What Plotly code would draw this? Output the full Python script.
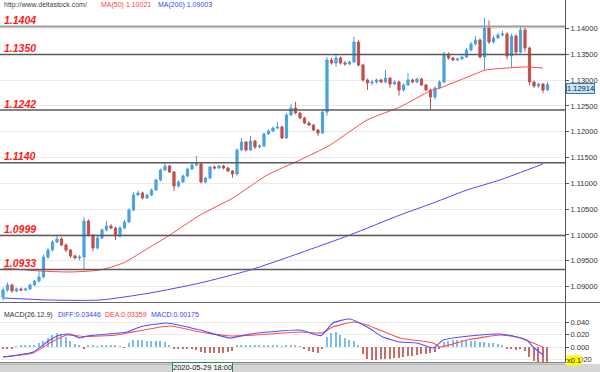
import plotly.graph_objects as go

# ---------------- data ----------------
first_open = 1.08798
closes = [1.08934,1.09031,1.08914,1.08953,1.08934,1.08953,1.09031,1.09108,1.09186,1.09573,
          1.09709,1.09864,1.09922,1.09806,1.09709,1.09593,1.09554,1.09573,1.10271,1.10000,
          1.09748,1.09942,1.10097,1.10174,1.10135,1.09980,1.10135,1.10252,1.10484,1.10775,
          1.10814,1.10717,1.10775,1.10872,1.11066,1.11259,1.11337,1.11221,1.10949,1.11027,
          1.11143,1.11279,1.11356,1.11376,1.11027,1.11104,1.11318,1.11298,1.11337,1.11298,
          1.11240,1.11182,1.11647,1.11802,1.11647,1.11821,1.11705,1.11725,1.11957,1.12015,
          1.12073,1.12093,1.11880,1.12325,1.12461,1.12364,1.12267,1.12170,1.12131,1.12035,
          1.11976,1.12383,1.13391,1.13333,1.13430,1.13333,1.13314,1.13352,1.13740,1.13294,
          1.13004,1.12945,1.12965,1.13004,1.12965,1.13042,1.12926,1.12965,1.12810,1.12907,
          1.13004,1.12965,1.13023,1.12907,1.12810,1.12674,1.12849,1.12965,1.13507,1.13430,
          1.13391,1.13411,1.13449,1.13585,1.13701,1.13779,1.13449,1.14011,1.13740,1.13818,
          1.13876,1.13895,1.13469,1.13856,1.13546,1.13973,1.13624,1.12965,1.12887,1.12926,
          1.12810,1.12914]
opens = [first_open] + closes[:-1]
highs = [1.0898,1.0908,1.0906,1.0898,1.0898,1.0898,1.0906,1.0913,1.0930,1.0962,
         1.0975,1.0990,1.0998,1.0996,1.0984,1.0973,1.0962,1.0961,1.1035,1.1030,
         1.1002,1.0998,1.1013,1.1027,1.1021,1.1016,1.1017,1.1029,1.1052,1.1083,
         1.1086,1.1084,1.1080,1.1090,1.1109,1.1129,1.1141,1.1136,1.1124,1.1106,
         1.1117,1.1131,1.1139,1.1153,1.1140,1.1113,1.1134,1.1135,1.1136,1.1136,
         1.1132,1.1126,1.1168,1.1188,1.1182,1.1192,1.1184,1.1176,1.1198,1.1205,
         1.1210,1.1219,1.1212,1.1236,1.1254,1.1258,1.1238,1.1229,1.1220,1.1215,
         1.1205,1.1241,1.1345,1.1343,1.1349,1.1346,1.1337,1.1338,1.1384,1.1378,
         1.1332,1.1303,1.1301,1.1303,1.1303,1.1320,1.1306,1.1300,1.1299,1.1294,
         1.1314,1.1303,1.1305,1.1305,1.1293,1.1284,1.1288,1.1300,1.1355,1.1354,
         1.1345,1.1344,1.1348,1.1362,1.1374,1.1386,1.1381,1.1421,1.1416,1.1386,
         1.1392,1.1396,1.1393,1.1390,1.1389,1.1403,1.1401,1.1365,1.1299,1.1295,
         1.1294,1.1296]
lows = [1.0873,1.0890,1.0888,1.0889,1.0891,1.0891,1.0893,1.0901,1.0908,1.0916,
        1.0953,1.0968,1.0984,1.0978,1.0967,1.0956,1.0953,1.0951,1.0932,1.0997,
        1.0968,1.0972,1.0992,1.1007,1.1011,1.0990,1.0995,1.1011,1.1023,1.1046,
        1.1075,1.1069,1.1070,1.1075,1.1085,1.1104,1.1124,1.1120,1.1085,1.1092,
        1.1101,1.1112,1.1126,1.1133,1.1100,1.1100,1.1108,1.1127,1.1128,1.1127,
        1.1122,1.1111,1.1115,1.1163,1.1162,1.1163,1.1167,1.1168,1.1171,1.1194,
        1.1199,1.1205,1.1186,1.1186,1.1231,1.1234,1.1224,1.1215,1.1211,1.1201,
        1.1192,1.1196,1.1231,1.1330,1.1326,1.1330,1.1328,1.1329,1.1333,1.1327,
        1.1297,1.1281,1.1290,1.1293,1.1294,1.1294,1.1285,1.1290,1.1270,1.1278,
        1.1289,1.1294,1.1294,1.1289,1.1279,1.1242,1.1262,1.1283,1.1294,1.1340,
        1.1337,1.1337,1.1339,1.1343,1.1356,1.1367,1.1342,1.1320,1.1370,1.1371,
        1.1380,1.1385,1.1340,1.1324,1.1350,1.1352,1.1355,1.1290,1.1285,1.1285,
        1.1275,1.1279]
idx = list(range(len(closes)))

ma50_x = [0, 8.2, 15, 21.5, 26.7, 32.7, 37.1, 43.8, 51.1, 58.7, 66, 72.7, 80.9, 88.2, 94.9, 97.1, 106, 107.1, 116.4, 120]
ma50_y = [1.09360, 1.09302, 1.09283, 1.09321, 1.09457, 1.09767, 1.10000, 1.10387, 1.10717, 1.11162,
          1.11453, 1.11744, 1.12228, 1.12480, 1.12790, 1.12849, 1.13159, 1.13197, 1.13256, 1.13236]
ma200_x = [0, 10.4, 21.6, 32.7, 43.8, 54.9, 66, 77.1, 88.2, 95.6, 103.1, 110.4, 120]
ma200_y = [1.08779, 1.08740, 1.08740, 1.08876, 1.09070, 1.09321, 1.09651, 1.10000, 1.10387,
           1.10620, 1.10872, 1.11066, 1.11376]

levels = [1.1404, 1.1350, 1.1242, 1.1140, 1.0999, 1.0933]
level_labels = ["1.1404", "1.1350", "1.1242", "1.1140", "1.0999", "1.0933"]
price_ticks = [1.09, 1.095, 1.10, 1.105, 1.11, 1.115, 1.12, 1.125, 1.13, 1.135, 1.14]
price_tick_text = ["1.09000", "1.09500", "1.10000", "1.10500", "1.11000", "1.11500",
                   "1.12000", "1.12500", "1.13000", "1.13500", "1.14000"]
last_price = 1.12914

diff_x = [0, 6.7, 10.4, 12.7, 14.9, 17.1, 18.7, 27.6, 30.4, 36.4, 43.8, 50.4, 54.9, 66, 70.7,
          73.3, 77.1, 80.9, 84.4, 88.2, 92, 95.6, 97.8, 101.6, 106, 110.4, 114.2, 116.4, 117.8, 120]
diff_y = [-0.0161, -0.0081, 0.0113, 0.0194, 0.0210, 0.0145, 0.0177, 0.0242, 0.0323, 0.0387,
          0.0274, 0.0145, 0.0210, 0.0274, 0.0185, 0.0387, 0.0452, 0.0323, 0.0161, 0.0081,
          0.0065, -0.0016, 0.0113, 0.0161, 0.0194, 0.0210, 0.0161, 0.0113, 0.0000, -0.0129]
dea_x = [0, 6.7, 10.4, 14.2, 17.8, 25.3, 27.6, 37.1, 43.8, 51.1, 66, 70.9, 73.3, 77.8, 80.9,
         88.2, 95.6, 97.1, 103.1, 110.4, 114.2, 120]
dea_y = [-0.0161, -0.0097, 0.0065, 0.0194, 0.0170, 0.0194, 0.0226, 0.0339, 0.0242, 0.0177,
         0.0242, 0.0226, 0.0323, 0.0403, 0.0355, 0.0145, 0.0065, 0.0000, 0.0113, 0.0194,
         0.0161, 0.0000]
macd_hist = [-0.002,-0.002,-0.002,0.001,0.002,0.002,0.003,0.004,0.006,0.010,
             0.014,0.019,0.022,0.021,0.016,0.010,0.005,0.002,-0.003,0.003,
             0.002,0.001,0.003,0.004,0.004,0.002,0.001,-0.001,0.006,0.012,
             0.012,0.011,0.010,0.009,0.009,0.010,0.008,0.003,-0.003,-0.004,
             -0.004,-0.003,-0.004,-0.005,-0.008,-0.009,-0.009,-0.009,-0.010,-0.009,
             -0.008,-0.006,0.002,0.003,0.002,0.003,0.002,0.002,0.003,0.003,
             0.002,0.002,0.001,0.003,0.003,0.002,0.001,-0.004,-0.006,-0.008,
             -0.009,-0.004,0.016,0.022,0.024,0.020,0.015,0.012,0.010,0.004,
             -0.012,-0.019,-0.021,-0.021,-0.020,-0.019,-0.019,-0.018,-0.017,-0.016,
             -0.014,-0.014,-0.013,-0.012,-0.011,-0.010,-0.008,-0.002,0.008,0.010,
             0.011,0.012,0.011,0.011,0.010,0.009,0.008,0.008,0.007,0.006,
             0.005,0.003,-0.004,-0.003,-0.005,-0.004,-0.007,-0.016,-0.022,-0.025,
             -0.026,-0.026]
macd_ticks = [-0.02, 0.0, 0.02, 0.04]
macd_tick_text = ["-0.020", "0.000", "0.020", "0.040"]

# ---------------- geometry helpers ----------------
W, H, R = 600, 372, 35
PW = W - R
def px(x):
    return x / PW
def py(y):
    return 1 - y / H

FONT = "Liberation Sans, Arial, sans-serif"
BLUE_C = "#4aa3df"
RED_C = "#c0504d"

fig = go.Figure()

fig.add_trace(go.Candlestick(
    x=idx, open=opens, high=highs, low=lows, close=closes,
    increasing=dict(line=dict(color=BLUE_C, width=1), fillcolor=BLUE_C),
    decreasing=dict(line=dict(color=RED_C, width=1), fillcolor=RED_C),
    xaxis="x", yaxis="y", hoverinfo="skip"))

fig.add_trace(go.Scatter(x=ma50_x, y=ma50_y, mode="lines",
                         line=dict(color="#ff4a4a", width=1, shape="spline", smoothing=0.6),
                         xaxis="x", yaxis="y"))
fig.add_trace(go.Scatter(x=ma200_x, y=ma200_y, mode="lines",
                         line=dict(color="#4a4aff", width=1, shape="spline", smoothing=0.6),
                         xaxis="x", yaxis="y"))

hist_colors = ["#7dbde6" if v >= 0 else "#cc6a6a" for v in macd_hist]
fig.add_trace(go.Bar(x=idx, y=macd_hist, marker=dict(color=hist_colors, line=dict(width=0)),
                     width=0.25, xaxis="x2", yaxis="y2"))
fig.add_trace(go.Scatter(x=dea_x, y=dea_y, mode="lines",
                         line=dict(color="#ff5050", width=1.1, shape="spline", smoothing=0.5),
                         xaxis="x2", yaxis="y2"))
fig.add_trace(go.Scatter(x=diff_x, y=diff_y, mode="lines",
                         line=dict(color="#5050ff", width=1.1, shape="spline", smoothing=0.5),
                         xaxis="x2", yaxis="y2"))

xr = [-3 / 4.5, (PW - 3) / 4.5]
main_top, main_bot = 0, 302
macd_top, macd_bot = 303, 363

def price_at(y):
    return 1.14554 - 0.0001938 * y
def macd_at(y):
    return (347 - y) / 620.0

fig.update_layout(
    width=W, height=H, margin=dict(l=0, r=R, t=0, b=0, pad=0),
    paper_bgcolor="white", plot_bgcolor="white", showlegend=False,
    font=dict(family=FONT, size=8, color="#333333"),
    xaxis=dict(domain=[0, 1], range=xr, showticklabels=False, showgrid=False, zeroline=False,
               rangeslider=dict(visible=False), anchor="y", fixedrange=True),
    yaxis=dict(domain=[py(main_bot), py(main_top)], range=[price_at(main_bot), price_at(main_top)],
               side="right", showline=True, linecolor="#555555", linewidth=1,
               ticks="outside", ticklen=3, tickcolor="#555555",
               tickvals=price_ticks, ticktext=price_tick_text,
               tickfont=dict(size=7.5, color="#333333", family=FONT),
               showgrid=True, gridcolor="#ebebeb", gridwidth=1, zeroline=False, anchor="x",
               automargin=False),
    xaxis2=dict(domain=[0, 1], range=xr, matches="x", showticklabels=False, showgrid=False,
                zeroline=False, anchor="y2"),
    yaxis2=dict(domain=[py(macd_bot), py(macd_top)], range=[macd_at(macd_bot), macd_at(macd_top)],
                side="right", showline=True, linecolor="#555555", linewidth=1,
                ticks="outside", ticklen=3, tickcolor="#555555",
                tickvals=macd_ticks, ticktext=macd_tick_text,
                tickfont=dict(size=7.5, color="#333333", family=FONT),
                showgrid=True, gridcolor="#ebebeb", zeroline=False, anchor="x2",
                automargin=False),
    bargap=0,
)

shapes = []
for i, lv in enumerate(levels):
    shapes.append(dict(type="line", xref="paper", yref="y", x0=0, x1=1, y0=lv, y1=lv,
                       line=dict(color="#9a9a9a" if i == 0 else "#5a5a5a", width=2 if i == 0 else 1.5)))
# pane separator
shapes.append(dict(type="line", xref="paper", yref="paper", x0=0, x1=W / PW, y0=py(302.5), y1=py(302.5),
                   line=dict(color="#666666", width=1)))
# MACD bottom border
shapes.append(dict(type="line", xref="paper", yref="paper", x0=0, x1=1, y0=py(362.5), y1=py(362.5),
                   line=dict(color="#888888", width=1)))
# bottom time strip
shapes.append(dict(type="rect", xref="paper", yref="paper", x0=0, x1=W / PW, y0=0, y1=py(364),
                   fillcolor="#d6d6d6", line=dict(width=0)))
shapes.append(dict(type="line", xref="paper", yref="paper", x0=0, x1=1, y0=py(364), y1=py(364),
                   line=dict(color="#9a9a9a", width=1)))
fig.update_layout(shapes=shapes)

ann = []
for lv, lab in zip(levels, level_labels):
    ann.append(dict(xref="paper", yref="y", x=px(2), y=lv, xanchor="left", yanchor="middle",
                    yshift=6.5, text="<b><i>" + lab + "</i></b>", showarrow=False,
                    font=dict(family=FONT, size=10.5, color="#ff1a1a")))
hdr = [("http://www.deltastock.com/", 3, "#444444"), ("MA(50) 1.10021", 100, "#ff4040"),
       ("MA(200) 1.09003", 157, "#4040ff")]
for t, x, c in hdr:
    ann.append(dict(xref="paper", yref="paper", x=px(x), y=py(5.5), xanchor="left", yanchor="middle",
                    text=t, showarrow=False, borderpad=0, font=dict(family=FONT, size=7, color=c)))
mh = [("MACD(26.12.9)", 3, "#333333"), ("DIFF:0.03446", 57, "#3c3cff"),
      ("DEA:0.03359", 104, "#ff3c3c"), ("MACD:0.00175", 150, "#3c3cff")]
for t, x, c in mh:
    ann.append(dict(xref="paper", yref="paper", x=px(x), y=py(314.5), xanchor="left", yanchor="middle",
                    text=t, showarrow=False, borderpad=0, font=dict(family=FONT, size=7, color=c)))
# last price box
ann.append(dict(xref="paper", yref="y", x=px(566), y=last_price, xanchor="left", yanchor="middle",
                yshift=-4, text="1.12914", showarrow=False, bgcolor="#c9e4f8", bordercolor="#3a78b8",
                borderwidth=1, borderpad=0, font=dict(family=FONT, size=7.5, color="#0a2a4a")))
# date label
ann.append(dict(xref="paper", yref="paper", x=px(202.5), y=py(367.5), xanchor="center", yanchor="middle",
                text="2020-05-29 18:00", showarrow=False, bgcolor="#f4f4f4", bordercolor="#2e8b57",
                borderwidth=1, borderpad=0, font=dict(family=FONT, size=7.5, color="#222222")))
# x0.1 box
ann.append(dict(xref="paper", yref="paper", x=px(566), y=py(360.5), xanchor="left", yanchor="middle",
                text="x0.1", showarrow=False, bgcolor="#ffff00", borderpad=0,
                font=dict(family=FONT, size=7.5, color="#222222")))
fig.update_layout(annotations=ann)

fig.write_html("out.html", config={"displayModeBar": False},
               post_script="document.body.style.margin='0';document.body.style.padding='0';")
